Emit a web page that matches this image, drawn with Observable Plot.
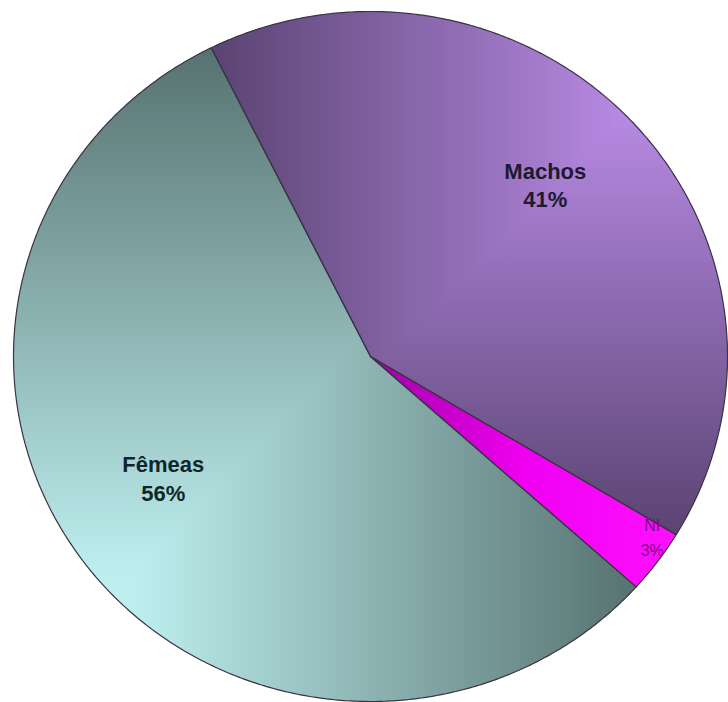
<!DOCTYPE html>
<html><head><meta charset="utf-8">
<script src="https://cdn.jsdelivr.net/npm/d3@7"></script>
<script src="https://cdn.jsdelivr.net/npm/@observablehq/plot@0.6"></script>
<style>html,body{margin:0;padding:0;background:#fff}</style>
</head><body><div id="chart"></div>
<script>
// ---- data ----
const categories = ["Machos", "NI", "Fêmeas"];
const values = [41, 3, 56];
const percentLabels = ["41%", "3%", "56%"];

// ---- style ----
const cx = 370, cy = 356, rx = 357, ry = 345;
const startDeg = -26.5;
const gradStops = [
  [[0, "#c798f8"], [0.12, "#c090ee"], [1, "#5a4472"]],
  [[0, "#a000a8"], [0.5, "#f000f0"], [1, "#ff10ff"]],
  [[0, "#c6f6f6"], [0.2, "#bdeeee"], [1, "#567270"]]
];
const corners = [[1, 1], null, [-1, -1]]; // light corner of each slice's box (data y up)
const labelR = [0.67, 0.94, 0.67];
const labelStyle = [
  {dx: -1, dy: -16, fontSize: 22, fontWeight: "bold", fill: "#1e1a30", lineHeight: 1.3},
  {dx: 12, dy: -14, fontSize: 16, fontWeight: "normal", fill: "#800a80", lineHeight: 1.55},
  {dx: -17, dy: -19, fontSize: 22, fontWeight: "bold", fill: "#10262a", lineHeight: 1.3}
];

const px = v => cx + rx * v, py = v => cy - ry * v;

const arcs = d3.pie().sort(null)
  .startAngle(startDeg * Math.PI / 180)
  .endAngle(startDeg * Math.PI / 180 + 2 * Math.PI)(values);

function ring(a) {
  const pts = [{x: 0, y: 0}];
  const n = Math.max(2, Math.ceil((a.endAngle - a.startAngle) / (Math.PI / 360)));
  for (let k = 0; k <= n; k++) {
    const t = a.startAngle + (a.endAngle - a.startAngle) * k / n;
    pts.push({x: Math.sin(t), y: Math.cos(t)});
  }
  return pts;
}
function clipHalf(poly, f) {
  const out = [];
  for (let i = 0; i < poly.length; i++) {
    const a = poly[i], b = poly[(i + 1) % poly.length];
    const fa = f(a), fb = f(b);
    if (fa >= 0) out.push(a);
    if ((fa >= 0) !== (fb >= 0)) {
      const t = fa / (fa - fb);
      out.push({x: a.x + t * (b.x - a.x), y: a.y + t * (b.y - a.y)});
    }
  }
  return out;
}
const close = p => p.length ? p.concat([p[0]]) : p;

const defs = d3.create("svg:defs");
function addGrad(id, x1, y1, x2, y2, stops) {
  const g = defs.append("linearGradient").attr("id", id).attr("gradientUnits", "userSpaceOnUse")
    .attr("x1", x1).attr("y1", y1).attr("x2", x2).attr("y2", y2);
  stops.forEach(([o, c]) => g.append("stop").attr("offset", o).attr("stop-color", c));
}

const marks = [() => defs.node()];
const outlines = [];
arcs.forEach((a, i) => {
  const r = ring(a);
  const xs = r.map(d => d.x), ys = r.map(d => d.y);
  const x0 = d3.min(xs), x1 = d3.max(xs), y0 = d3.min(ys), y1 = d3.max(ys);
  r.forEach(d => outlines.push({...d, name: categories[i]}));
  outlines.push({...r[0], name: categories[i]});
  if (corners[i]) {
    const [sx, sy] = corners[i];
    const xc = sx > 0 ? x1 : x0, xf = sx > 0 ? x0 : x1;
    const yc = sy > 0 ? y1 : y0, yf = sy > 0 ? y0 : y1;
    addGrad("h" + i, px(xc), 0, px(xf), 0, gradStops[i]);
    addGrad("v" + i, 0, py(yc), 0, py(yf), gradStops[i]);
    marks.push(Plot.line(close(r), {x: "x", y: "y", fill: `url(#h${i})`, stroke: "none"}));
    const vPoly = clipHalf(r, p => (p.y - yc) / (yf - yc) - (p.x - xc) / (xf - xc));
    marks.push(Plot.line(close(vPoly), {x: "x", y: "y", fill: `url(#v${i})`, stroke: "none"}));
  } else {
    addGrad("h" + i, px(0), 0, px(x1), 0, gradStops[i]);
    marks.push(Plot.line(close(r), {x: "x", y: "y", fill: `url(#h${i})`, stroke: "none"}));
  }
});
marks.push(Plot.line(outlines, {x: "x", y: "y", z: "name", stroke: "#3a3346", strokeWidth: 1.2, strokeLinejoin: "round"}));

arcs.forEach((a, i) => {
  const mid = (a.startAngle + a.endAngle) / 2;
  const d = [{x: labelR[i] * Math.sin(mid), y: labelR[i] * Math.cos(mid), t: categories[i] + "\n" + percentLabels[i]}];
  marks.push(Plot.text(d, {x: "x", y: "y", text: "t", fontFamily: "Liberation Sans, Arial, sans-serif", ...labelStyle[i]}));
});

const chart = Plot.plot({
  width: 728, height: 702, margin: 0,
  x: {domain: [-1, 1], range: [cx - rx, cx + rx], axis: null},
  y: {domain: [-1, 1], range: [cy + ry, cy - ry], axis: null},
  style: {background: "#fff", overflow: "visible"},
  marks
});
document.getElementById("chart").appendChild(chart);
</script>
</body></html>
